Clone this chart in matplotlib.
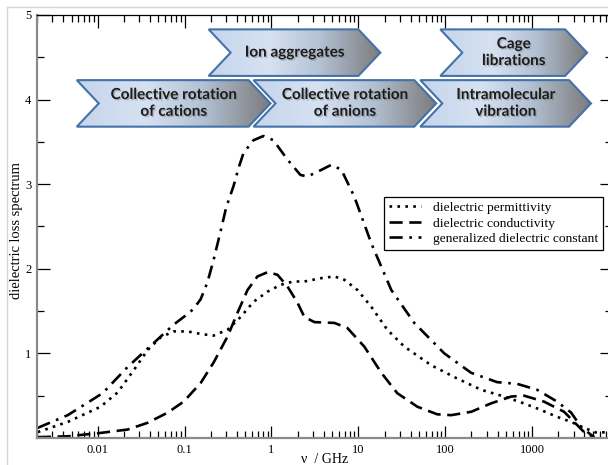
import numpy as np
import matplotlib
matplotlib.use('Agg')
import matplotlib.pyplot as plt
import matplotlib.patheffects as pe
from matplotlib.patches import Polygon
from matplotlib.colors import LinearSegmentedColormap
from matplotlib.lines import Line2D

plt.rcParams['font.family'] = ['Liberation Serif', 'DejaVu Serif']
plt.rcParams['font.size'] = 9

###=========== data (nu in GHz) ===========
freq_perm = [0.00204, 0.00452, 0.0108, 0.0170, 0.0259, 0.0376, 0.0530, 0.0748, 0.108,
             0.153, 0.215, 0.312, 0.441, 0.621, 0.900, 1.27, 1.79, 2.39, 3.76, 5.30,
             6.90, 9.75, 14.1, 21.5, 33.8, 69.0, 127, 259, 476, 748, 1140, 1940,
             2810, 3960, 5590, 7100]
eps_perm = [0.07, 0.19, 0.37, 0.54, 0.80, 1.04, 1.19, 1.26, 1.26,
            1.23, 1.21, 1.28, 1.43, 1.61, 1.73, 1.81, 1.85, 1.85, 1.89, 1.91,
            1.87, 1.75, 1.55, 1.28, 1.08, 0.86, 0.72, 0.57, 0.49, 0.42, 0.35, 0.25,
            0.19, 0.12, 0.06, 0.07]

freq_cond = [0.00204, 0.00452, 0.0108, 0.0221, 0.0376, 0.0638, 0.0975, 0.153, 0.215,
             0.312, 0.406, 0.530, 0.690, 0.900, 1.17, 1.53, 1.99, 2.39, 3.12, 5.30,
             7.48, 11.7, 18.4, 28.0, 47.7, 80.9, 117, 199, 338, 574, 810, 1370,
             2330, 3040, 3960, 5160]
eps_cond = [0.01, 0.02, 0.06, 0.10, 0.18, 0.30, 0.43, 0.65, 0.89,
            1.20, 1.48, 1.75, 1.91, 1.96, 1.93, 1.79, 1.60, 1.43, 1.37, 1.36,
            1.30, 1.08, 0.77, 0.53, 0.37, 0.28, 0.27, 0.31, 0.41, 0.49, 0.50, 0.43,
            0.31, 0.19, 0.07, 0.01]

freq_gen = [0.00204, 0.00452, 0.0114, 0.0221, 0.0407, 0.0748, 0.0975, 0.125, 0.153,
            0.183, 0.215, 0.259, 0.30, 0.366, 0.420, 0.477, 0.621, 0.809, 1.05,
            1.53, 2.15, 2.59, 3.76, 4.90, 6.38, 9.00, 14.1, 23.9, 44.0, 97.5, 199,
            396, 673, 1140, 1940, 2810, 3660, 5160]
eps_gen = [0.12, 0.27, 0.53, 0.84, 1.09, 1.34, 1.43, 1.52, 1.64,
           1.84, 2.10, 2.44, 2.72, 2.98, 3.20, 3.37, 3.52, 3.57, 3.52,
           3.29, 3.11, 3.09, 3.17, 3.23, 3.17, 2.85, 2.30, 1.75, 1.36, 1.00, 0.77,
           0.66, 0.64, 0.57, 0.43, 0.30, 0.13, 0.01]

# banners: label, start / end frequency (GHz), bottom / top in y
banner_labels = ['Ion aggregates', 'Cage\nlibrations', 'Collective rotation\nof cations',
                 'Collective rotation\nof anions', 'Intramolecular\nvibration']
banner_start = [0.189, 87.7, 0.00574, 0.621, 51.6]
banner_end = [17.9, 4290, 0.975, 78.8, 4760]
banner_bottom = [4.28, 4.28, 3.68, 3.68, 3.68]
banner_top = [4.83, 4.83, 4.23, 4.23, 4.23]

W, H = 608, 465
fig = plt.figure(figsize=(W / 100, H / 100), dpi=100)
ax = fig.add_axes([37 / W, 1 - 438 / H, 575 / W, 423 / H])

ax.plot(freq_perm, eps_perm, color='black', lw=1.9, linestyle=(0, (1, 2.0)),
        label='dielectric permittivity')
ax.plot(freq_cond, eps_cond, color='black', lw=1.9, linestyle=(0, (5, 2.5)),
        label='dielectric conductivity')
ax.plot(freq_gen, eps_gen, color='black', lw=1.9, linestyle=(0, (5, 2.5, 1, 2.5)),
        label='generalized dielectric constant')

ax.set_xscale('log')
ax.set_xlim(0.002, 8300)
ax.set_ylim(0, 5)
ax.set_xticks([0.01, 0.1, 1, 10, 100, 1000])
ax.set_xticklabels(['0.01', '0.1', '1', '10', '100', '1000'])
ax.set_yticks([1, 2, 3, 4, 5])
ax.set_yticks([0.5, 1.5, 2.5, 3.5, 4.5], minor=True)
ax.tick_params(which='both', direction='in', top=True, right=True, labelsize=9, pad=4)
ax.tick_params(which='major', length=9, width=0.9)
ax.tick_params(which='minor', length=5, width=0.9)
for s in ['left', 'bottom']:
    ax.spines[s].set_color('#8a8a8a')
    ax.spines[s].set_linewidth(1.6)
ax.spines['top'].set_linewidth(0.9)

ax.set_ylabel('dielectric loss spectrum', fontsize=10.5)
ax.yaxis.set_label_coords(-0.025, 0.49)
ax.set_xlabel('\u03bd  / GHz', fontsize=10)
ax.xaxis.set_label_coords(0.5, -0.035)

leg = ax.legend(loc='upper left', bbox_to_anchor=((384 - 37) / 575, (438 - 197) / 423),
                frameon=True, fancybox=False, edgecolor='black', framealpha=1,
                handlelength=2.4, handletextpad=0.9, borderpad=0.35, labelspacing=0.22,
                fontsize=9.7, borderaxespad=0)
leg.get_frame().set_linewidth(0.9)

###=========== banners on a pixel overlay ===========
ov = fig.add_axes([0, 0, 1, 1], zorder=5)
ov.set_xlim(0, W)
ov.set_ylim(0, H)
ov.axis('off')

cmap = LinearSegmentedColormap.from_list('band', [(0, '#c6d5ec'), (0.35, '#d6e2f2'),
                                                   (0.65, '#b3c1d4'), (1, '#7b7b7b')])
grad = np.linspace(0, 1, 256).reshape(1, -1)
depth = 22
for lab, f0, f1, y0, y1 in zip(banner_labels, banner_start, banner_end, banner_bottom, banner_top):
    (x0, b), = ax.transData.transform([(f0, y0)])
    (x1, t), = ax.transData.transform([(f1, y1)])
    ym = (b + t) / 2
    verts = [(x0, t), (x1 - depth, t), (x1, ym), (x1 - depth, b), (x0, b), (x0 + depth, ym)]
    poly = Polygon(verts, closed=True, facecolor='none', edgecolor='#4472a8', lw=1.5, zorder=3)
    ov.add_patch(poly)
    im = ov.imshow(grad, extent=[x0, x1, b, t], aspect='auto', cmap=cmap, zorder=2)
    im.set_clip_path(poly)
    ov.text((x0 + x1) / 2, ym, lab, ha='center', va='center', fontsize=11,
            family='Lato', weight='bold', color='#1c1c1c', linespacing=1.25, zorder=4,
            path_effects=[pe.withSimplePatchShadow(offset=(1, -1), shadow_rgbFace='#888888',
                                                   alpha=0.5)])
ov.set_xlim(0, W)
ov.set_ylim(0, H)

# light page border
fig.add_artist(Line2D([7 / W, 7 / W], [0, 1 - 7 / H], color='#d6d6d6', lw=1))
fig.add_artist(Line2D([7 / W, 1], [1 - 7 / H, 1 - 7 / H], color='#d6d6d6', lw=1))

fig.savefig('out.png', dpi=100)
